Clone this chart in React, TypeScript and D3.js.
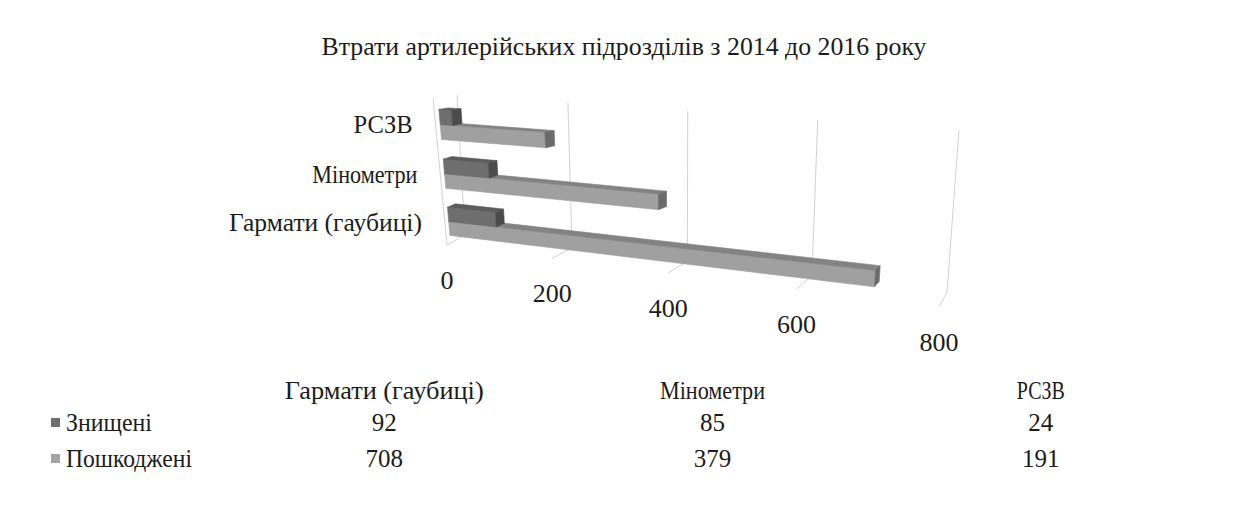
import { useEffect, useRef } from "react";
import * as d3 from "d3";

// ---- data ----
const chartTitle = "Втрати артилерійських підрозділів з 2014 до 2016 року";
const categories = ["Гармати (гаубиці)", "Мінометри", "РСЗВ"];
const seriesNames = ["Знищені", "Пошкоджені"];
const destroyed = [92, 85, 24];
const damaged = [708, 379, 191];
const valueTicks = [0, 200, 400, 600, 800];

type Pt = [number, number];

// screen corners of the 3D box: (u=0,h=0), (u=1,h=0), (u=1,h=1), (u=0,h=1)
const BACK: Pt[] = [[465, 235], [947, 292], [959, 130], [457, 95]];
const FRONT: Pt[] = [[447, 245], [939, 307], [956, 129], [433, 98]];

// unit square -> quad (projective)
function quadMap(q: Pt[]) {
  const [[x0, y0], [x1, y1], [x2, y2], [x3, y3]] = q;
  const sx = x0 - x1 + x2 - x3, sy = y0 - y1 + y2 - y3;
  let a, b, c, d, e, f, g = 0, h = 0;
  if (Math.abs(sx) < 1e-9 && Math.abs(sy) < 1e-9) {
    a = x1 - x0; b = x3 - x0; c = x0; d = y1 - y0; e = y3 - y0; f = y0;
  } else {
    const dx1 = x1 - x2, dx2 = x3 - x2, dy1 = y1 - y2, dy2 = y3 - y2;
    const den = dx1 * dy2 - dx2 * dy1;
    g = (sx * dy2 - dx2 * sy) / den;
    h = (dx1 * sy - sx * dy1) / den;
    a = x1 - x0 + g * x1; b = x3 - x0 + h * x3; c = x0;
    d = y1 - y0 + g * y1; e = y3 - y0 + h * y3; f = y0;
  }
  return (u: number, v: number): Pt => {
    const w = g * u + h * v + 1;
    return [(a * u + b * v + c) / w, (d * u + e * v + f) / w];
  };
}

// u: value fraction, hh: height fraction (0 bottom), dd: depth (0 front, 1 back)
function project(u: number, hh: number, dd: number): Pt {
  const q = FRONT.map((p, i) => [p[0] + (BACK[i][0] - p[0]) * dd, p[1] + (BACK[i][1] - p[1]) * dd] as Pt);
  return quadMap(q)(u, hh);
}

const FONT = "Liberation Serif, Times New Roman, serif";
const TEXT = "#1c1c1c";
const COLORS: Record<string, { front: string; top: string; end: string; key: string }> = {
  "Знищені": { front: "#6e6e6e", top: "#5c5c5c", end: "#4b4b4b", key: "#707070" },
  "Пошкоджені": { front: "#a0a0a0", top: "#838383", end: "#6b6b6b", key: "#a3a3a3" },
};

// text widths
const catLabelWidth: Record<string, number> = { "Гармати (гаубиці)": 193, "Мінометри": 105, "РСЗВ": 59 };
const tableHeadWidth: Record<string, number> = { "Гармати (гаубиці)": 199, "Мінометри": 105, "РСЗВ": 48 };
const legendWidth: Record<string, number> = { "Знищені": 86, "Пошкоджені": 126 };

export default function App() {
  const ref = useRef<SVGSVGElement>(null);

  useEffect(() => {
    document.body.style.margin = "0";
    const svg = d3.select(ref.current);
    svg.selectAll("*").remove();

    const W = 1240, H = 506;
    svg.append("rect").attr("width", W).attr("height", H).attr("fill", "#fff");

    const x = d3.scaleLinear().domain([0, 800]).range([0, 1]);
    const yBand = d3.scaleBand<string>().domain(categories).range([-0.012, 0.988])
      .paddingInner(0.4).paddingOuter(0.2);
    const sBand = d3.scaleBand<string>().domain(["Пошкоджені", "Знищені"])
      .range([0, yBand.bandwidth()]);

    const line = d3.line<Pt>();
    const poly = (pts: Pt[]) => line(pts) + "Z";

    // title
    svg.append("text")
      .attr("x", 624).attr("y", 55)
      .attr("text-anchor", "middle")
      .attr("textLength", 605).attr("lengthAdjust", "spacingAndGlyphs")
      .attr("font-family", FONT).attr("font-size", 25).attr("fill", TEXT)
      .text(chartTitle);

    // gridlines: back wall + floor segments, left wall edge
    const grid = svg.append("g").attr("stroke", "#d2d2d2").attr("stroke-width", 1).attr("fill", "none");
    valueTicks.forEach(t => {
      const u = x(t);
      grid.append("path").attr("d", line([project(u, 0, 1), project(u, 1, 1)]));
      grid.append("path").attr("d", line([project(u, 0, 1), project(u, 0, 0)]));
    });
    grid.append("path").attr("d", line([project(0, 0, 0), project(0, 1, 0)]));

    // bars (front, top, end faces)
    const d0 = 0.2, d1 = 0.6;
    const bars = svg.append("g");
    [...categories].reverse().forEach(cat => {
      const ci = categories.indexOf(cat);
      ["Пошкоджені", "Знищені"].forEach(s => {
        const val = s === "Знищені" ? destroyed[ci] : damaged[ci];
        const h0 = (yBand(cat) ?? 0) + (sBand(s) ?? 0);
        const h1 = h0 + sBand.bandwidth();
        const u1 = x(val);
        const c = COLORS[s];
        const faces: [Pt[], string][] = [
          [[project(0, h0, d0), project(u1, h0, d0), project(u1, h1, d0), project(0, h1, d0)], c.front],
          [[project(0, h1, d0), project(u1, h1, d0), project(u1, h1, d1), project(0, h1, d1)], c.top],
          [[project(u1, h0, d0), project(u1, h0, d1), project(u1, h1, d1), project(u1, h1, d0)], c.end],
        ];
        faces.forEach(([pts, fill]) => {
          bars.append("path").attr("d", poly(pts))
            .attr("fill", fill).attr("stroke", fill).attr("stroke-width", 0.6)
            .attr("stroke-linejoin", "round");
        });
      });
    });

    // category labels
    categories.forEach(cat => {
      const hc = (yBand(cat) ?? 0) + yBand.bandwidth() / 2;
      const [px, py] = project(0, hc, 0);
      svg.append("text")
        .attr("x", px - 23).attr("y", py + 8)
        .attr("text-anchor", "end")
        .attr("textLength", catLabelWidth[cat]).attr("lengthAdjust", "spacingAndGlyphs")
        .attr("font-family", FONT).attr("font-size", 26).attr("fill", TEXT)
        .text(cat);
    });

    // value tick labels
    valueTicks.forEach(t => {
      const [px, py] = project(x(t), 0, 0);
      svg.append("text")
        .attr("x", px).attr("y", py + 44)
        .attr("text-anchor", "middle")
        .attr("font-family", FONT).attr("font-size", 26).attr("fill", TEXT)
        .text(t);
    });

    // data table
    const col = d3.scaleBand<string>().domain(categories).range([220, 1205]);
    const cx = (c: string) => (col(c) ?? 0) + col.bandwidth() / 2;
    const table = svg.append("g")
      .attr("font-family", FONT).attr("font-size", 25).attr("fill", TEXT);

    categories.forEach(c => {
      table.append("text").attr("x", cx(c)).attr("y", 399).attr("text-anchor", "middle")
        .attr("textLength", tableHeadWidth[c]).attr("lengthAdjust", "spacingAndGlyphs")
        .text(c);
    });

    const rows = [
      { name: seriesNames[0], values: destroyed, y: 431 },
      { name: seriesNames[1], values: damaged, y: 467 },
    ];
    rows.forEach(r => {
      table.append("rect").attr("x", 51).attr("y", r.y - 13).attr("width", 9).attr("height", 9)
        .attr("fill", COLORS[r.name].key);
      table.append("text").attr("x", 66).attr("y", r.y)
        .attr("textLength", legendWidth[r.name]).attr("lengthAdjust", "spacingAndGlyphs")
        .text(r.name);
      r.values.forEach((v, i) => {
        table.append("text").attr("x", cx(categories[i])).attr("y", r.y)
          .attr("text-anchor", "middle").text(v);
      });
    });
  }, []);

  return <svg ref={ref} width={1240} height={506} style={{ display: "block" }} />;
}
